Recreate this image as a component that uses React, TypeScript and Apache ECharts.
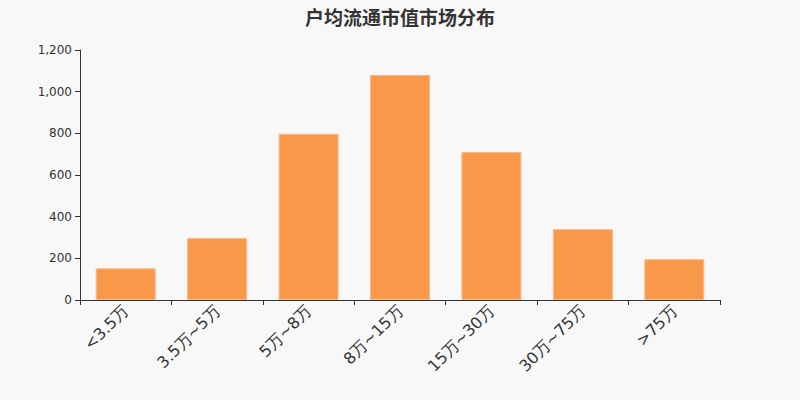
import { useEffect, useRef } from "react";
import * as echarts from "echarts";

const categories = ["<3.5万", "3.5万~5万", "5万~8万", "8万~15万", "15万~30万", "30万~75万", ">75万"];
const counts = [152, 298, 798, 1080, 710, 340, 196];
const yTicks = [0, 200, 400, 600, 800, 1000, 1200];

function App() {
  const chartRef = useRef(null);

  useEffect(() => {
    document.body.style.margin = "0";
    const chart = echarts.init(chartRef.current, null, { renderer: "svg" });

    const option = {
      animation: false,
      backgroundColor: "#f8f8f8",
      textStyle: { fontFamily: "DejaVu Sans" },
      title: {
        text: "户均流通市值市场分布",
        left: "center",
        top: 2,
        textStyle: { fontSize: 19, fontWeight: "bold", color: "#333", fontFamily: "Noto Sans CJK SC" },
      },
      grid: { left: 80, right: 80, top: 50, bottom: 100 },
      xAxis: {
        type: "category",
        data: categories,
        axisLine: { lineStyle: { color: "#333" } },
        axisTick: { show: true, alignWithLabel: false },
        axisLabel: { rotate: 45, fontSize: 16, color: "#333", margin: 8 },
      },
      yAxis: {
        type: "value",
        min: yTicks[0],
        max: yTicks[yTicks.length - 1],
        interval: 200,
        splitLine: { show: false },
        axisLine: { show: true, lineStyle: { color: "#333" } },
        axisTick: { show: true },
        axisLabel: {
          color: "#333",
          fontSize: 12,
          formatter: (v: number) => v.toLocaleString("en-US"),
        },
      },
      series: [
        {
          type: "bar",
          data: counts,
          barWidth: 60,
          itemStyle: { color: "#f7984a", borderColor: "#fbb888", borderWidth: 1 },
        },
      ],
    };

    chart.setOption(option);
    return () => {
      chart.dispose();
    };
  }, []);

  return <div ref={chartRef} style={{ width: "800px", height: "400px" }}></div>;
}

export default App;
